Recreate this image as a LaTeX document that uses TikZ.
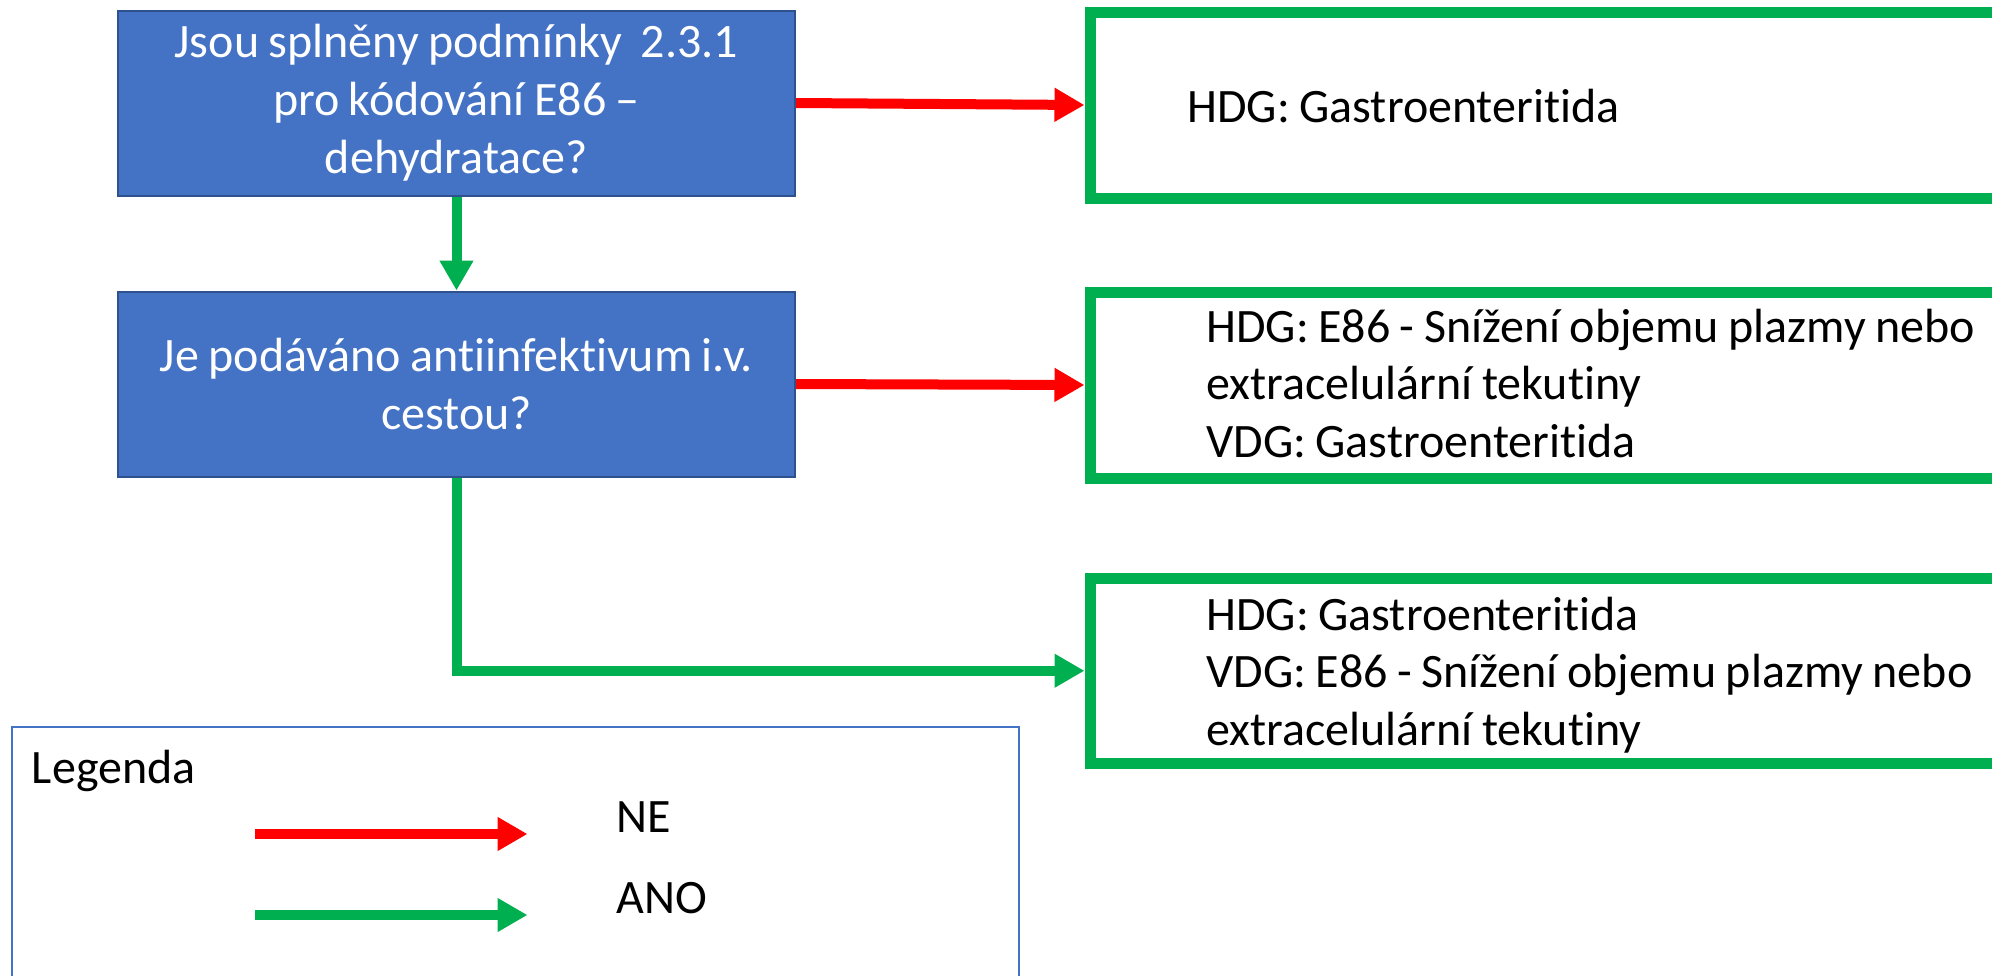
\documentclass[tikz,border=0pt]{standalone}
\usepackage{fontspec}
\setmainfont{Carlito}[WordSpace=0.87,Ligatures=NoCommon]
\usetikzlibrary{arrows.meta}
\definecolor{qblue}{HTML}{4472C4}
\definecolor{qborder}{HTML}{2F528F}
\definecolor{okgreen}{HTML}{00B050}
\definecolor{nored}{HTML}{FF0000}
\frenchspacing
\begin{document}
\begin{tikzpicture}[x=0.5pt,y=-0.5pt,
  qbox/.style={draw=qborder, line width=1pt, fill=qblue, text=white, align=center,
    minimum width=338.5pt, minimum height=92.5pt, inner sep=0pt,
    font=\fontsize{24}{29}\selectfont},
  gbox/.style={draw=okgreen, line width=5.5pt, minimum width=510pt, minimum height=93pt, inner sep=0pt},
  gtext/.style={anchor=base west, align=flush left, text width=430pt, inner sep=0pt,
    font=\fontsize{24}{28.75}\selectfont},
  ltext/.style={anchor=base west, inner sep=0pt, font=\fontsize{24}{28.75}\selectfont},
  noarrow/.style={color=nored, line width=5pt, -{Triangle[length=15pt,width=16pt]}},
  yesarrow/.style={color=okgreen, line width=5pt, -{Triangle[length=15pt,width=16pt]}},
  legbox/.style={draw=qblue, line width=1pt, minimum width=503.3pt, minimum height=136.5pt, inner sep=0pt, outer sep=0pt}
]
\useasboundingbox (0,0) rectangle (1992,975);
\clip (0,0) rectangle (1992,975);

% question boxes
\node[qbox] (q1) at (456.5,103) {Jsou splněny podmínky~~2.3.1\\pro kódování E86 –\\dehydratace?};
\node[qbox] (q2) at (456.5,384) {Je podáváno antiinfektivum i.v.\\cestou?};

% result boxes
\node[gbox] (r1) at (1600,105) {};
\node[gbox] (r2) at (1600,385) {};
\node[gbox, minimum height=92.75pt] (r3) at (1600,670.75) {};

\node[gtext] (t1) at (1187,122) {HDG: Gastroenteritida};
\node[gtext] (t2) at (1206,342) {HDG: E86 - Snížení objemu plazmy nebo\\extracelulární tekutiny\\VDG: Gastroenteritida};
\node[gtext] (t3) at (1206,630) {HDG: Gastroenteritida\\VDG: E86 - Snížení objemu plazmy nebo\\extracelulární tekutiny};

% connectors
\draw[noarrow] (q1.east) -- (r1.west);
\draw[noarrow] (q2.east) -- (r2.west);
\draw[yesarrow] (q1.south) -- (q2.north);
\draw[yesarrow] (q2.south) |- (r3.west);

% legend
\node[legbox, anchor=north west] (legend) at (12,727) {};
\node[ltext] (legtitle) at (31.6,783) {Legenda};
\coordinate (nes) at (255,834);
\coordinate (nee) at (527.5,834);
\coordinate (yes) at (255,915);
\coordinate (yee) at (527.5,915);
\draw[noarrow] (nes) -- (nee);
\draw[yesarrow] (yes) -- (yee);
\node[ltext] (ne) at (616,832) {NE};
\node[ltext] (ano) at (616,913) {ANO};
\end{tikzpicture}
\end{document}
